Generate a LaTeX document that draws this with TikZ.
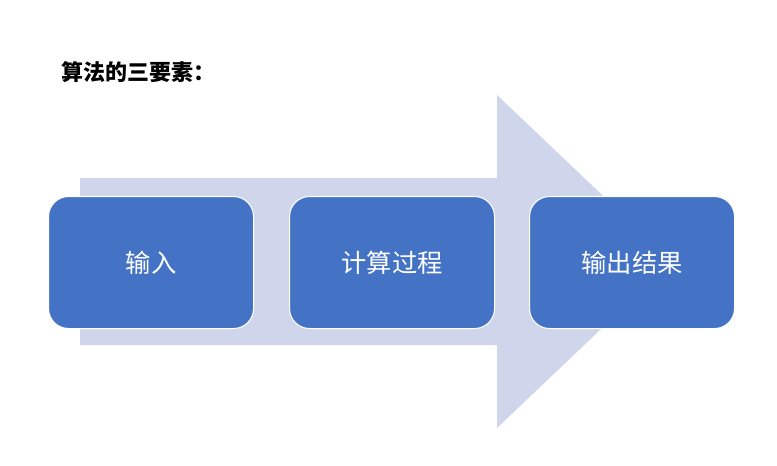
\documentclass[tikz,border=0pt]{standalone}
\usepackage{fontspec}
\setmainfont{Noto Sans CJK SC}
\newfontfamily\cjkbold{Noto Sans CJK SC Bold}
\definecolor{boxblue}{HTML}{4472C4}
\definecolor{arrowfill}{HTML}{CFD5EA}
\begin{document}
\begin{tikzpicture}[x=0.75pt,y=-0.75pt,
  stepbox/.style={draw=white,line width=0.8pt,fill=boxblue,rounded corners=15pt,
    minimum width=205*0.75pt,minimum height=132*0.75pt,text=white,font=\fontsize{19pt}{22pt}\selectfont,anchor=north west}]
\useasboundingbox (0,0) rectangle (777,466);
\fill[arrowfill] (80,178) -- (497,178) -- (497,95) -- (672,261.5) -- (497,428) -- (497,345) -- (80,345) -- cycle;
\node[anchor=west,font=\fontsize{16.5pt}{20pt}\selectfont\bfseries] (title) at (57,72) {算法的三要素：};
\node[stepbox] (a) at (48,196) {输入};
\node[stepbox] (b) at (289,196) {计算过程};
\node[stepbox] (c) at (529,196) {输出结果};
\end{tikzpicture}
\end{document}
